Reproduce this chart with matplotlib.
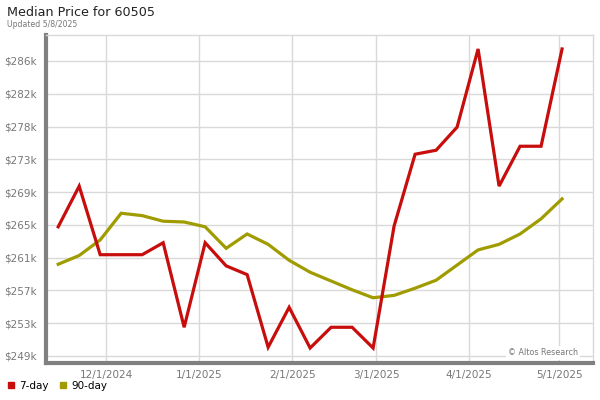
import pandas as pd
import matplotlib
matplotlib.use('Agg')
import matplotlib.pyplot as plt
from matplotlib.lines import Line2D

# Данные (недельные точки, пятница)
dates = pd.date_range('2024-11-15', periods=25, freq='7D')

day7 = [265.0, 270.1, 261.5, 261.5, 261.5, 263.0, 252.4, 263.0, 260.1, 259.0,
        249.9, 254.9, 249.8, 252.4, 252.4, 249.8, 265.1, 274.1, 274.6, 277.5,
        287.3, 270.1, 275.1, 275.1, 287.3]

day90 = [260.3, 261.4, 263.35, 266.7, 266.4, 265.7, 265.6, 265.0, 262.3, 264.1,
         262.8, 260.8, 259.3, 258.2, 257.1, 256.1, 256.4, 257.3, 258.3, 260.2,
         262.1, 262.8, 264.1, 266.0, 268.5]

y_ticks = [248.8, 252.91, 257.02, 261.13, 265.24, 269.35, 273.46, 277.57, 281.68, 285.79]
x_ticks = ['2024-12-01', '2025-01-01', '2025-02-01', '2025-03-01', '2025-04-01', '2025-05-01']
x_labels = ['12/1/2024', '1/1/2025', '2/1/2025', '3/1/2025', '4/1/2025', '5/1/2025']

RED = '#c80d0d'
OLIVE = '#a09c00'
GRAY = '#808080'
GRID = '#d9d9d9'

fig = plt.figure(figsize=(6, 4), dpi=100)
ax = fig.add_axes([0.077, 0.0913, 0.911, 0.8212])

ax.plot(dates, day90, color=OLIVE, linewidth=2.3, zorder=3, solid_joinstyle='miter')
ax.plot(dates, day7, color=RED, linewidth=2.3, zorder=4, solid_joinstyle='miter')

ax.set_xlim(pd.Timestamp('2024-11-11'), pd.Timestamp('2025-05-12 06:00'))
ax.set_ylim(247.86, 289.05)

ax.set_yticks(y_ticks)
ax.set_yticklabels(['$%dk' % round(v) for v in y_ticks])
ax.set_xticks([pd.Timestamp(d) for d in x_ticks])
ax.set_xticklabels(x_labels)
ax.tick_params(length=0, labelsize=7.5, labelcolor='#777777', pad=7)
ax.tick_params(axis='x', pad=5)

ax.grid(True, color=GRID, linewidth=1)
ax.set_axisbelow(True)

for side in ['top', 'right']:
    ax.spines[side].set_color(GRID)
    ax.spines[side].set_linewidth(1)
for side in ['left', 'bottom']:
    ax.spines[side].set_color(GRAY)
    ax.spines[side].set_linewidth(3)

ax.text(0.973, 0.032, '\u00a9 Altos Research', transform=ax.transAxes, ha='right', va='center',
        fontsize=5.8, color='#777777', zorder=5,
        bbox=dict(facecolor='white', edgecolor='none', pad=1.5))

# Заголовок
fig.text(0.012, 0.97, 'Median Price for 60505', fontsize=9.2, color='#222222', va='center')
fig.text(0.012, 0.938, 'Updated 5/8/2025', fontsize=5.6, color='#777777', va='center')

# Легенда
handles = [Line2D([], [], linestyle='none', marker='s', markersize=5, color=RED, label='7-day'),
           Line2D([], [], linestyle='none', marker='s', markersize=5, color=OLIVE, label='90-day')]
fig.legend(handles=handles, loc='lower left', bbox_to_anchor=(-0.005, 0.0), ncol=2,
           frameon=False, fontsize=7.5, handletextpad=0.4, columnspacing=1.0, handlelength=0.8)

plt.savefig('out.png', dpi=100)
